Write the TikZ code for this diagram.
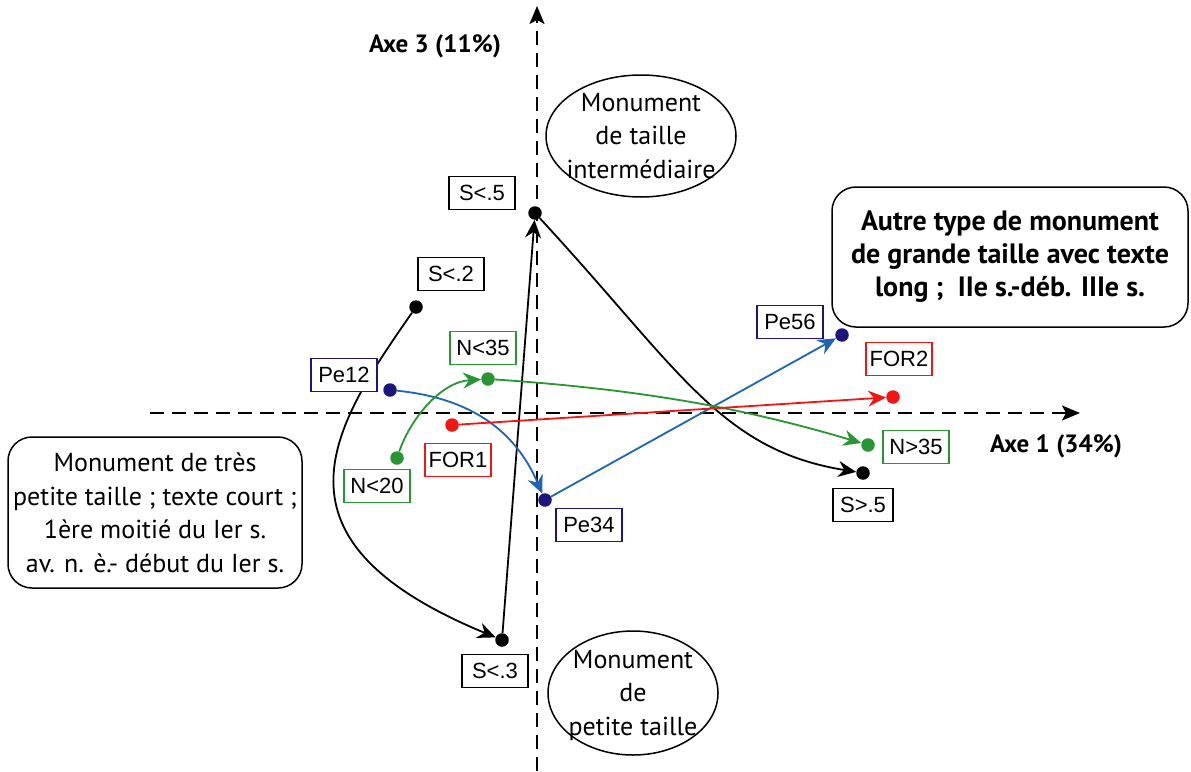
\documentclass[tikz,border=0pt]{standalone}
\usepackage{fontspec}
\setmainfont{PT Sans}
\newfontfamily\labfont{Liberation Sans}
\usetikzlibrary{arrows.meta,shapes.geometric,backgrounds}
\definecolor{cblue}{RGB}{30,100,180}
\definecolor{cindigo}{RGB}{30,20,125}
\definecolor{cgreen}{RGB}{40,150,50}
\definecolor{cred}{RGB}{245,20,20}
\tikzset{
  lbl/.style={draw, fill=white, line width=1.4pt, font=\labfont\fontsize{22}{24}\selectfont,
    minimum width=66pt, minimum height=33pt, inner sep=0pt},
  pt/.style={circle, fill, inner sep=0pt, minimum size=13.5pt},
  conn/.style={line width=1.8pt, -{Stealth[length=18pt,width=16pt,inset=6pt]}},
  axis/.style={line width=1.8pt, dash pattern=on 14pt off 8pt, -{Stealth[length=18pt,width=15pt,inset=4pt]}},
  desc/.style={align=center, font=\fontsize{26}{33.5}\selectfont, inner sep=0pt},
  descb/.style={align=center, font=\bfseries\fontsize{28}{33}\selectfont, inner sep=0pt},
  rbox/.style={draw, line width=1.5pt, rounded corners=24pt, inner sep=0pt},
  ell/.style={draw, ellipse, line width=1.5pt, inner sep=0pt}
}
\begin{document}
\begin{tikzpicture}[x=1pt,y=-1pt]
\useasboundingbox (0,0) rectangle (1191,771);
% dots
\node[pt] (s5) at (535,213) {};
\node[pt] (s2) at (416,307) {};
\node[pt,cindigo] (p12) at (390,390) {};
\node[pt,cgreen] (n35) at (488,379) {};
\node[pt,cred] (f1) at (452,425) {};
\node[pt,cgreen] (n20) at (397,458) {};
\node[pt,cindigo] (p34) at (545,500) {};
\node[pt] (s3) at (502,640) {};
\node[pt,cindigo] (p56) at (842,335) {};
\node[pt,cred] (f2) at (893,397) {};
\node[pt,cgreen] (n35b) at (868,445) {};
\node[pt] (s5b) at (863,473) {};
% axes end points
\coordinate (hx0) at (150,413);
\coordinate (hx1) at (1080,413);
\coordinate (vy0) at (537,771);
\coordinate (vy1) at (537,6);
\begin{pgfonlayer}{background}
  \fill[white] (0,0) rectangle (1191,771);
  \draw[axis] (hx0) -- (hx1);
  \draw[axis] (vy0) -- (vy1);
  % black
  \draw[conn] (s2) .. controls (330,430) and (260,540) .. (s3);
  \draw[conn] (s3) -- (s5);
  \draw[conn] (s5) .. controls (680,370) and (720,450) .. (s5b);
  % blue
  \draw[conn,cblue] (p12) .. controls (470,398) and (515,430) .. (p34);
  \draw[conn,cblue] (p34) -- (p56);
  % green
  \draw[conn,cgreen] (n20) .. controls (410,420) and (440,382) .. (n35);
  \draw[conn,cgreen] (n35) .. controls (650,390) and (750,410) .. (n35b);
  % red
  \draw[conn,cred] (f1) -- (f2);
\end{pgfonlayer}
% labels
\node[lbl] (ls5) at (482,193) {S<.5};
\node[lbl] (ls2) at (451,274) {S<.2};
\node[lbl,draw=cindigo] (lp12) at (344,375) {Pe12};
\node[lbl,draw=cgreen] (ln35) at (483,348) {N<35};
\node[lbl,draw=cgreen] (ln20) at (377,486) {N<20};
\node[lbl,draw=cred] (lf1) at (458,460) {FOR1};
\node[lbl,draw=cindigo] (lp34) at (589,525) {Pe34};
\node[lbl,draw=cindigo] (lp56) at (790,322) {Pe56};
\node[lbl,draw=cred] (lf2) at (899,359) {FOR2};
\node[lbl,draw=cgreen] (ln35b) at (916,447) {N>35};
\node[lbl,minimum width=60pt] (ls5b) at (863,505) {S>.5};
\node[lbl] (ls3) at (495,671) {S<.3};
% axis labels
\node[font=\bfseries\fontsize{25}{28}\selectfont, inner sep=0pt] (ax3) at (435,46) {Axe 3 (11\%)};
\node[font=\bfseries\fontsize{25}{28}\selectfont, inner sep=0pt] (ax1) at (1056,446) {Axe 1 (34\%)};
% ellipses
\node[ell, minimum width=190pt, minimum height=122pt] (e1) at (641,136) {};
\node[desc] (t1) at (641,136) {Monument\\de taille\\intermédiaire};
\node[ell, minimum width=170pt, minimum height=124pt] (e2) at (633,693) {};
\node[desc] (t2) at (633,695) {Monument\\de\\petite taille};
% rounded boxes
\node[rbox, minimum width=294pt, minimum height=151pt] (b1) at (155,512.5) {};
\node[desc] (tb1) at (155,513) {Monument de très\\petite taille ; texte court ;\\1ère moitié du Ier s.\\av. n. è.- début du Ier s.};
\node[rbox, minimum width=356pt, minimum height=140pt] (b2) at (1010,257) {};
\node[descb] (tb2) at (1010,257) {Autre type de monument\\de grande taille avec texte\\long ;\ \ IIe s.-déb. IIIe s.};
\end{tikzpicture}
\end{document}
